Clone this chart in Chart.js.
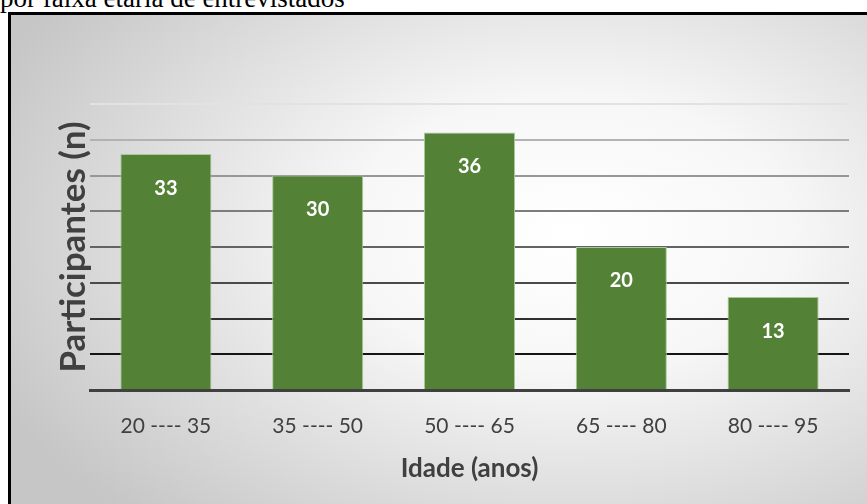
<!DOCTYPE html>
<html>
<head>
<meta charset="utf-8">
<script src="https://cdn.jsdelivr.net/npm/chart.js@4.4.1/dist/chart.umd.min.js"></script>
<style>
  html, body { margin: 0; padding: 0; background: #fff; overflow: hidden; }
  #page { position: relative; width: 867px; height: 504px; }
  #caption {
    position: absolute; left: 0; top: -15px;
    font: 27px/27px "Liberation Serif", "Times New Roman", serif; color: #000;
    white-space: nowrap;
  }
  #frame {
    position: absolute; left: 8px; top: 12px; width: 900px; height: 520px;
    border-left: 3px solid #000; border-top: 3px solid #000;
    background: radial-gradient(ellipse 70% 75% at 62% 42%, #ffffff 0%, #f7f7f7 35%, #c6c6c6 100%);
  }
  #chart { position: absolute; left: 0; top: 0; }
</style>
</head>
<body>
<div id="page">
  <div id="caption">por faixa etária de entrevistados</div>
  <div id="frame"></div>
  <canvas id="chart" width="867" height="504"></canvas>
</div>
<script>
// age groups and number of participants in each
const ageGroups = ["20 ---- 35", "35 ---- 50", "50 ---- 65", "65 ---- 80", "80 ---- 95"];
const participants = [33, 30, 36, 20, 13];

// gridline shades, darkest at the bottom
const gridShades = {
  5: "#151515", 10: "#303030", 15: "#4a4a4a", 20: "#636363",
  25: "#7d7d7d", 30: "#979797", 35: "#b2b2b2", 40: "#e2e2e2"
};

// writes each value inside the top of its bar
const barValues = {
  id: "barValues",
  afterDatasetsDraw(chart) {
    const ctx = chart.ctx;
    const meta = chart.getDatasetMeta(0);
    ctx.save();
    ctx.fillStyle = "#ffffff";
    ctx.font = "bold 20px Lato, sans-serif";
    ctx.textAlign = "center";
    ctx.textBaseline = "middle";
    meta.data.forEach((bar, i) => {
      ctx.fillText(participants[i], bar.x, bar.y + 34);
    });
    ctx.restore();
  }
};

new Chart(document.getElementById("chart"), {
  type: "bar",
  data: {
    labels: ageGroups,
    datasets: [{
      data: participants,
      backgroundColor: "#538135",
      borderColor: "#a8c896",
      borderWidth: 1,
      borderSkipped: "bottom",
      barPercentage: 0.6,
      categoryPercentage: 1
    }]
  },
  options: {
    responsive: false,
    animation: false,
    layout: { padding: { top: 104, right: 18, left: 53, bottom: 0 } },
    plugins: {
      legend: { display: false },
      tooltip: { enabled: false }
    },
    scales: {
      x: {
        grid: { display: false },
        border: { display: true, color: "#404040", width: 3 },
        ticks: {
          color: "#404040",
          font: { family: "Lato", size: 21 },
          padding: 16
        },
        title: {
          display: true,
          text: "Idade (anos)",
          color: "#404040",
          font: { family: "Lato", size: 26, weight: "bold" },
          padding: { top: 0, bottom: 20 }
        },
        afterFit: (scale) => { scale.height = 114; }
      },
      y: {
        min: 0,
        max: 40,
        ticks: { stepSize: 5, display: false },
        border: { display: false },
        grid: {
          drawTicks: false,
          lineWidth: 2,
          color: (c) => gridShades[c.tick.value] || "rgba(0,0,0,0)"
        },
        title: {
          display: true,
          text: "Participantes (n)",
          color: "#404040",
          font: { family: "Lato", size: 35, weight: "bold" },
          padding: { top: 0, bottom: 0 }
        },
        afterFit: (scale) => { scale.width = 37; }
      }
    }
  },
  plugins: [barValues]
});
</script>
</body>
</html>
